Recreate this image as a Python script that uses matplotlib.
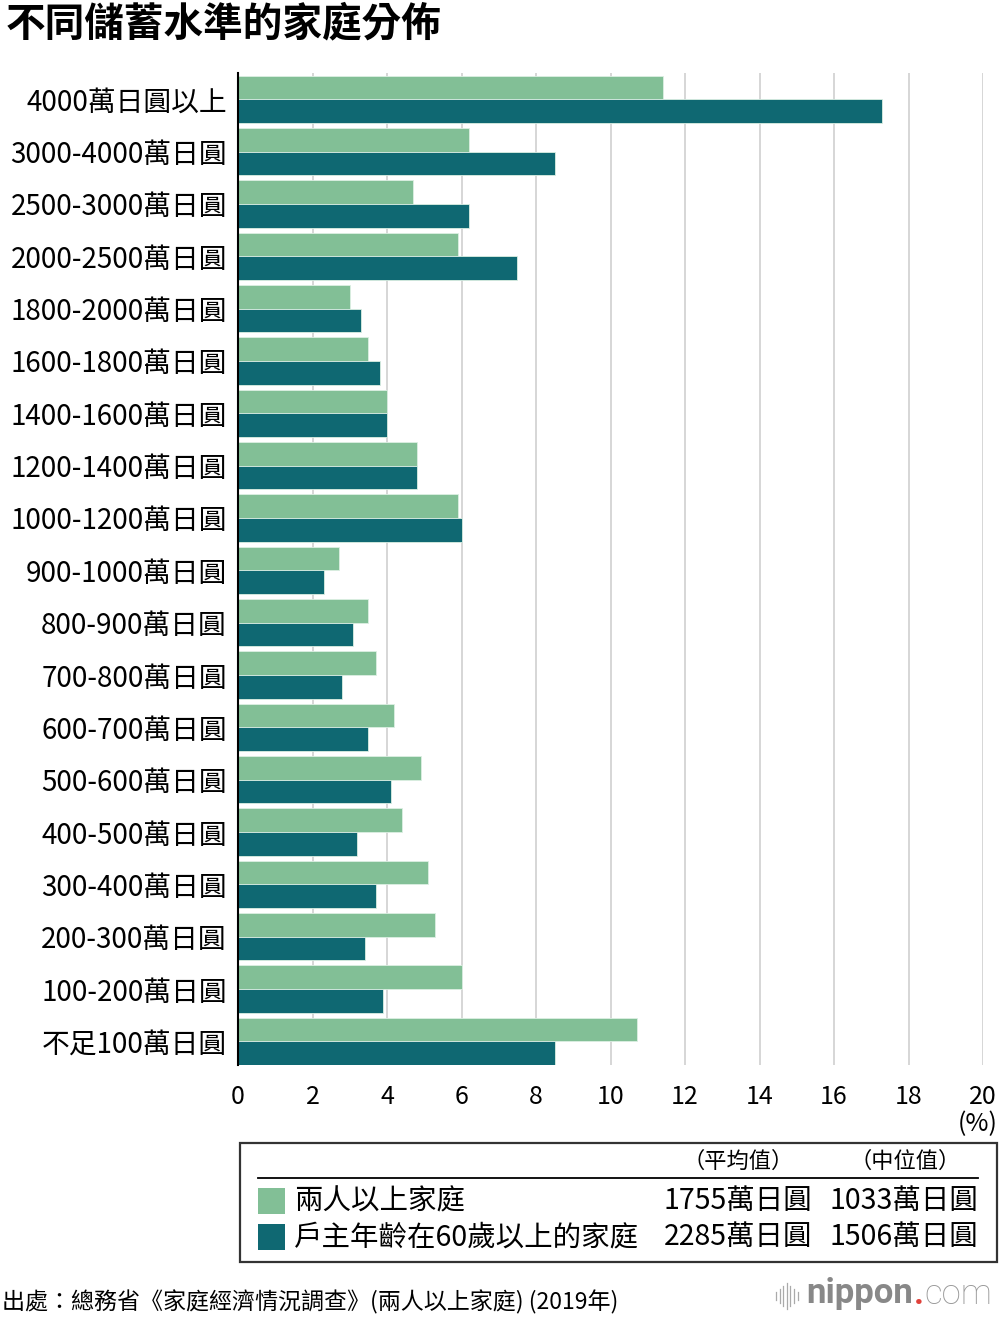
import matplotlib
matplotlib.use("Agg")
import matplotlib.pyplot as plt
from matplotlib.patches import Rectangle
from matplotlib.lines import Line2D
import numpy as np

plt.rcParams['font.family'] = ['Noto Sans CJK TC', 'DejaVu Sans']
plt.rcParams['font.weight'] = 'medium'

# data (percent of households), top to bottom
categories = [
    '4000萬日圓以上', '3000-4000萬日圓', '2500-3000萬日圓', '2000-2500萬日圓',
    '1800-2000萬日圓', '1600-1800萬日圓', '1400-1600萬日圓', '1200-1400萬日圓',
    '1000-1200萬日圓', '900-1000萬日圓', '800-900萬日圓', '700-800萬日圓',
    '600-700萬日圓', '500-600萬日圓', '400-500萬日圓', '300-400萬日圓',
    '200-300萬日圓', '100-200萬日圓', '不足100萬日圓',
]
two_plus = [11.4, 6.2, 4.7, 5.9, 3.0, 3.5, 4.0, 4.8, 5.9, 2.7,
            3.5, 3.7, 4.2, 4.9, 4.4, 5.1, 5.3, 6.0, 10.7]
senior60 = [17.3, 8.5, 6.2, 7.5, 3.3, 3.8, 4.0, 4.8, 6.0, 2.3,
            3.1, 2.8, 3.5, 4.1, 3.2, 3.7, 3.4, 3.9, 8.5]
x_ticks = [0, 2, 4, 6, 8, 10, 12, 14, 16, 18, 20]

series_names = ['兩人以上家庭', '戶主年齡在60歲以上的家庭']
mean_vals = ['1755萬日圓', '2285萬日圓']
median_vals = ['1033萬日圓', '1506萬日圓']

c_light = '#82bf96'
c_dark = '#0f6872'

W, H = 1000, 1320
fig = plt.figure(figsize=(10, 13.2), dpi=100)


def px(x, y):
    return x / W, 1 - y / H


ax = fig.add_axes([0.238, 1 - 1065 / H, 0.745, (1065 - 73) / H])
y = np.arange(len(categories))
bh = 0.452
ax.barh(y - bh / 2, two_plus, height=bh, color=c_light, edgecolor='#dcefe3', linewidth=0.6, zorder=3)
ax.barh(y + bh / 2, senior60, height=bh, color=c_dark, edgecolor='#dcefe3', linewidth=0.6, zorder=3)

ax.set_xlim(0, 20)
ax.set_ylim(18.45, -0.5)
ax.set_xticks(x_ticks)
ax.set_xticklabels([str(t) for t in x_ticks], fontsize=18)
ax.set_yticks(y)
ax.set_yticklabels(categories, fontsize=20)
for lbl in ax.get_yticklabels():
    lbl.set_va('center_baseline')
ax.tick_params(axis='both', length=0)
ax.tick_params(axis='x', pad=14)
ax.tick_params(axis='y', pad=8)
ax.grid(axis='x', color='#cccccc', linewidth=1.1, zorder=0)
for s in ['top', 'right', 'bottom']:
    ax.spines[s].set_visible(False)
ax.spines['left'].set_color('black')
ax.spines['left'].set_linewidth(1.5)
ax.spines['left'].set_zorder(4)

# title
fig.text(*px(6, 24), '不同儲蓄水準的家庭分佈', fontsize=28.5, fontweight='bold', va='center', ha='left')

# unit
fig.text(*px(998, 1124), '(%)', fontsize=18, ha='right', va='center')

# legend table
bx0, by0, bx1, by1 = 240, 1143, 997, 1262
fig.add_artist(Rectangle(px(bx0, by1), (bx1 - bx0) / W, (by1 - by0) / H,
                         transform=fig.transFigure, fill=False, edgecolor='#333333', linewidth=1.6))
fig.add_artist(Line2D([258 / W, 978 / W], [1 - 1178 / H] * 2, transform=fig.transFigure,
                      color='black', linewidth=1.3))
fig.text(*px(738, 1161), '（平均值）', fontsize=16, ha='center', va='center')
fig.text(*px(905, 1161), '（中位值）', fontsize=16, ha='center', va='center')
for i, (name, col) in enumerate(zip(series_names, [c_light, c_dark])):
    yy = 1201 + i * 36
    fig.add_artist(Rectangle(px(258, yy + 13), 27 / W, 26 / H, transform=fig.transFigure,
                             facecolor=col, edgecolor='none'))
    fig.text(*px(294, yy), name, fontsize=20.5, ha='left', va='center')
    fig.text(*px(812, yy), mean_vals[i], fontsize=20.5, ha='right', va='center')
    fig.text(*px(978, yy), median_vals[i], fontsize=20.5, ha='right', va='center')

# footer
fig.text(*px(2, 1302), '出處：總務省《家庭經濟情況調查》(兩人以上家庭) (2019年)',
         fontsize=16.6, ha='left', va='center')

# logo
for k, h in enumerate([8, 14, 20, 26, 20, 14, 8]):
    xx = 776 + k * 3.6
    fig.add_artist(Line2D([xx / W] * 2, [1 - (1296 - h / 2) / H, 1 - (1296 + h / 2) / H],
                          transform=fig.transFigure, color='#aaaaaa', linewidth=0.9))
t1 = fig.text(*px(806, 1294), 'nippon', fontsize=25, fontweight='bold', color='#888888',
              ha='left', va='center', family='Roboto')
fig.canvas.draw()
bb = t1.get_window_extent()
t2 = fig.text(bb.x1 / W + 0.001, 1 - 1294 / H, '.', fontsize=25, color='#e0413a', fontweight='bold',
              ha='left', va='center', family='Roboto')
bb2 = t2.get_window_extent()
fig.text(bb2.x1 / W, 1 - 1294 / H, 'com', fontsize=25, color='#999999', fontweight='light',
         ha='left', va='center', family='Roboto')

fig.savefig('out.png', dpi=100)
